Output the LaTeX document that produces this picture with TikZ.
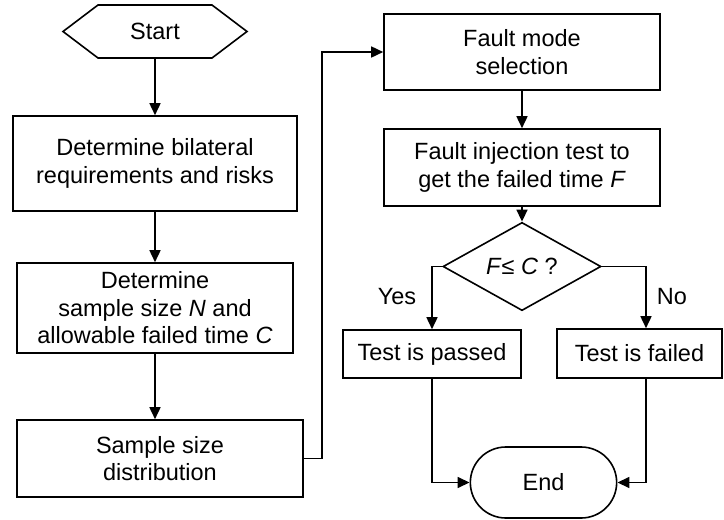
\documentclass[tikz,border=0pt]{standalone}
\usepackage{fontspec}
\setmainfont{Liberation Sans}
\usepackage{tikz}
\usetikzlibrary{arrows.meta,shapes.geometric,shapes.misc}

\begin{document}
\begin{tikzpicture}[x=1pt,y=-1pt,
    font=\fontsize{23.5}{27.5}\selectfont,
    line width=1.6pt,
    boite/.style={draw, rectangle, align=center, inner sep=2pt},
    fleche/.style={-{Triangle[length=12pt,width=11pt]}}]
    \useasboundingbox (0,0) rectangle (724,520);

    % Définition des points
    \coordinate (S) at (155,58);
    \coordinate (K) at (322,52);
    \coordinate (X) at (646,0);

    % Début
    \draw (63,31.5) -- (98,5) -- (212,5) -- (247,31.5) -- (212,58) -- (98,58) -- cycle;
    \node (start) at (155,31.5) {Start};

    % Colonne de gauche
    \node[boite, minimum width=284pt, minimum height=95pt] (bilat) at (155,163.5)
        {Determine bilateral\\requirements and risks};
    \node[boite, minimum width=276pt, minimum height=90pt] (taille) at (155,308)
        {Determine\\sample size \textit{N} and\\allowable failed time \textit{C}};
    \node[boite, minimum width=286pt, minimum height=77pt] (distrib) at (160,458.5)
        {Sample size\\distribution};

    % Colonne de droite
    \node[boite, minimum width=276pt, minimum height=76pt] (mode) at (522,52)
        {Fault mode\\selection};
    \node[boite, minimum width=276pt, minimum height=77pt] (inject) at (522,167.5)
        {Fault injection test to\\get the failed time \textit{F}};
    \node[draw, diamond, minimum width=158pt, minimum height=73pt, inner sep=0pt] (test) at (522,266.5)
        {\textit{F}≤ \textit{C} ?};
    \node[boite, minimum width=178pt, minimum height=48pt] (passe) at (432,354) {Test is passed};
    \node[boite, minimum width=165pt, minimum height=49pt] (echec) at (639.5,353.5) {Test is failed};
    \node[draw, rounded rectangle, minimum width=153pt, minimum height=71pt] (fin) at (543.5,482.5) {End};

    % Etiquettes
    \node (oui) at (397,297) {Yes};
    \node (non) at (672,297) {No};

    % Flèches
    \draw[fleche] (S) -- (bilat.north);
    \draw[fleche] (bilat.south) -- (taille.north);
    \draw[fleche] (taille.south) -- (taille.south |- distrib.north);
    \draw[fleche] (distrib.east) -| (K) -- (mode.west);
    \draw[fleche] (mode.south) -- (inject.north);
    \draw[fleche] (inject.south) -- (test.north);
    \draw[fleche] (test.west) -| (passe.north);
    \draw[fleche] (test.east) -| (X |- echec.north);
    \draw[fleche] (passe.south) |- (fin.west);
    \draw[fleche] (X |- echec.south) |- (fin.east);
\end{tikzpicture}
\end{document}
